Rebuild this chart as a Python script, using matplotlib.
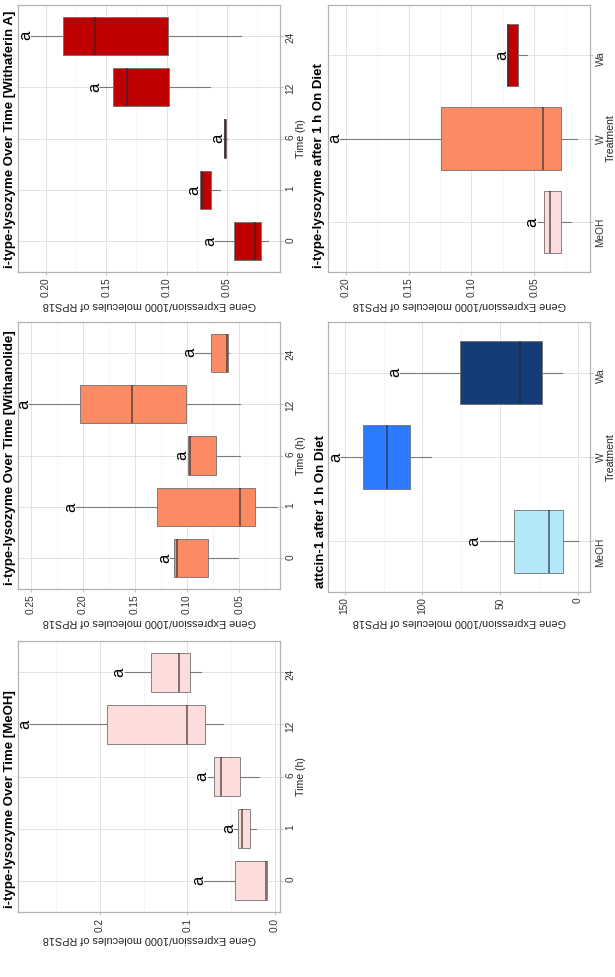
import numpy as np
import matplotlib
matplotlib.use('Agg')
import matplotlib.pyplot as plt
from matplotlib.ticker import AutoMinorLocator

plt.rcParams['font.family'] = ['Liberation Sans', 'DejaVu Sans']

# categories
time_labels = ['0', '1', '6', '12', '24']
treat_labels = ['MeOH', 'W', 'Wa']

# i-type-lysozyme over time, MeOH  (whisker low, q1, median, q3, whisker high)
meoh_lo = [0.009, 0.021, 0.018, 0.059, 0.085]
meoh_q1 = [0.0092, 0.028, 0.040, 0.080, 0.097]
meoh_med = [0.0103, 0.038, 0.061, 0.100, 0.110]
meoh_q3 = [0.046, 0.042, 0.070, 0.192, 0.142]
meoh_hi = [0.081, 0.047, 0.077, 0.280, 0.172]

# i-type-lysozyme over time, Withanolide
wnl_lo = [0.051, 0.014, 0.049, 0.049, 0.060]
wnl_q1 = [0.080, 0.035, 0.072, 0.101, 0.0605]
wnl_med = [0.110, 0.049, 0.097, 0.153, 0.062]
wnl_q3 = [0.113, 0.129, 0.099, 0.203, 0.0775]
wnl_hi = [0.116, 0.206, 0.0995, 0.251, 0.0925]

# i-type-lysozyme over time, Withaferin A
wfa_lo = [0.016, 0.056, 0.0495, 0.064, 0.038]
wfa_q1 = [0.022, 0.063, 0.0505, 0.098, 0.099]
wfa_med = [0.027, 0.0706, 0.0515, 0.133, 0.159]
wfa_q3 = [0.044, 0.072, 0.0523, 0.144, 0.186]
wfa_hi = [0.060, 0.0726, 0.0528, 0.155, 0.212]

# i-type-lysozyme after 1 h on diet
lyz1h_lo = [0.021, 0.016, 0.056]
lyz1h_q1 = [0.029, 0.029, 0.063]
lyz1h_med = [0.0376, 0.043, 0.0706]
lyz1h_q3 = [0.0426, 0.1245, 0.0719]
lyz1h_hi = [0.0474, 0.2045, 0.0719]

# attacin-1 after 1 h on diet
att_lo = [0.0, 94.2, 10.0]
att_q1 = [9.4, 108.0, 23.4]
att_med = [18.5, 122.9, 37.1]
att_q3 = [41.3, 137.9, 76.1]
att_hi = [63.3, 152.1, 114.4]

sig_letters = 'a'

W, H = 615, 977
fig = plt.figure(figsize=(W / 100, H / 100), dpi=100)

pink, salmon, red = '#FFDCDC', '#FB8B65', '#C00000'
lblue, blue, navy = '#B3E8FA', '#2A7BFF', '#143C78'


def panel(rect, title, cats, lo, q1, med, q3, hi, colors, xlim, ticks,
          ticklabels, cat_title, title_x):
    x0, y0, x1, y1 = rect
    ax = fig.add_axes([x0 / W, 1 - y1 / H, (x1 - x0) / W, (y1 - y0) / H])
    pos = np.arange(1, len(cats) + 1)
    stats = [dict(whislo=a, q1=b, med=c, q3=d, whishi=e, fliers=[])
             for a, b, c, d, e in zip(lo, q1, med, q3, hi)]
    bp = ax.bxp(stats, positions=pos, widths=0.75, orientation='horizontal',
                patch_artist=True, showcaps=False, showfliers=False,
                boxprops=dict(edgecolor='#707070', linewidth=0.6),
                whiskerprops=dict(color='#7a7a7a', linewidth=0.8),
                medianprops=dict(color='#2a2a2a', linewidth=1.2, alpha=0.7))
    for patch, c in zip(bp['boxes'], colors):
        patch.set_facecolor(c)
    for p, h in zip(pos, hi):
        ax.annotate(sig_letters, xy=(h, p), xytext=(1.5, 0),
                    textcoords='offset points', ha='right', va='center',
                    rotation=90, fontsize=12, annotation_clip=False)
    ax.set_ylim(0.4, len(cats) + 0.6)
    ax.set_xlim(xlim[1], xlim[0])
    ax.set_yticks(pos)
    ax.set_yticklabels(cats)
    ax.set_xticks(ticks)
    ax.set_xticklabels(ticklabels)
    ax.yaxis.tick_right()
    ax.yaxis.set_label_position('right')
    ax.xaxis.set_minor_locator(AutoMinorLocator(2))
    ax.tick_params(axis='both', which='major', labelsize=7.3, length=2.5,
                   width=0.6, color='#b3b3b3', pad=1.5, labelcolor='#333333')
    ax.tick_params(axis='x', labelrotation=90)
    ax.tick_params(axis='y', labelrotation=90)
    ax.tick_params(which='minor', length=0)
    ax.grid(True, which='major', color='#dedede', linewidth=0.6)
    ax.grid(True, which='minor', axis='x', color='#efefef', linewidth=0.4)
    ax.set_axisbelow(True)
    for s in ax.spines.values():
        s.set_color('#b3b3b3')
        s.set_linewidth(0.9)
    ax.set_xlabel('Gene Expression/1000 molecules of RPS18', rotation=180,
                  fontsize=7.8, labelpad=2, color='#222222')
    ax.set_ylabel(cat_title, rotation=90, fontsize=7.6, labelpad=0,
                  color='#222222')
    fig.text(title_x / W, 1 - (y1 - 4) / H, title, rotation=90,
             ha='center', va='bottom', fontsize=9.5, fontweight='bold')
    return ax


panel((18, 5, 280, 272), 'i-type-lysozyme Over Time [Withaferin A]',
      time_labels, wfa_lo, wfa_q1, wfa_med, wfa_q3, wfa_hi, [red] * 5,
      (0.006, 0.223), [0.05, 0.10, 0.15, 0.20],
      ['0.05', '0.10', '0.15', '0.20'], 'Time (h)', 10)

panel((18, 322, 280, 589), 'i-type-lysozyme Over Time [Withanolide]',
      time_labels, wnl_lo, wnl_q1, wnl_med, wnl_q3, wnl_hi, [salmon] * 5,
      (0.011, 0.262), [0.05, 0.10, 0.15, 0.20, 0.25],
      ['0.05', '0.10', '0.15', '0.20', '0.25'], 'Time (h)', 10)

panel((18, 641, 280, 912), 'i-type-lysozyme Over Time [MeOH]',
      time_labels, meoh_lo, meoh_q1, meoh_med, meoh_q3, meoh_hi, [pink] * 5,
      (-0.006, 0.294), [0.0, 0.1, 0.2], ['0.0', '0.1', '0.2'],
      'Time (h)', 10)

panel((328, 5, 590, 272), 'i-type-lysozyme after 1 h On Diet',
      treat_labels, lyz1h_lo, lyz1h_q1, lyz1h_med, lyz1h_q3, lyz1h_hi,
      [pink, salmon, red], (0.0056, 0.2143), [0.05, 0.10, 0.15, 0.20],
      ['0.05', '0.10', '0.15', '0.20'], 'Treatment', 319)

panel((328, 322, 590, 592), 'attcin-1 after 1 h On Diet',
      treat_labels, att_lo, att_q1, att_med, att_q3, att_hi,
      [lblue, blue, navy], (-7.7, 160.7), [0, 50, 100, 150],
      ['0', '50', '100', '150'], 'Treatment', 321)

fig.savefig('out.png', dpi=100)
